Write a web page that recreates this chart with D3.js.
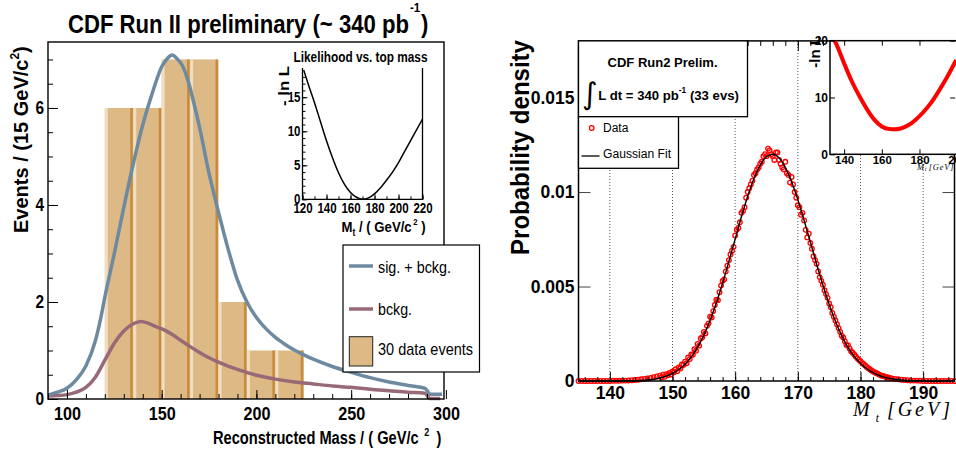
<!DOCTYPE html>
<html>
<head>
<meta charset="utf-8">
<script src="https://cdn.jsdelivr.net/npm/d3@7"></script>
<style>
  body { margin: 0; background: #fff; }
  svg { display: block; }
</style>
</head>
<body>
<div id="chart"></div>
<script>
// ---------- left panel: reconstructed mass ----------
const binEdges = [120, 135, 150, 165, 180, 195, 210, 225];
const binCounts = [6, 6, 7, 7, 2, 1, 1];

const sigMass = [90, 95, 100, 105, 110, 115, 118, 120, 125, 130, 135, 140, 145, 150, 153, 155.5, 158, 161, 164, 167, 170, 175, 180, 185, 190, 195, 200, 205, 210, 215, 220, 225, 230, 240, 250, 260, 270, 280, 289, 290.5, 291.5, 298];
const sigEvents = [0.08, 0.14, 0.22, 0.4, 0.68, 1.2, 1.7, 2.1, 3.0, 3.95, 4.85, 5.65, 6.3, 6.85, 7.02, 7.09, 7.02, 6.87, 6.55, 6.1, 5.6, 4.65, 3.85, 3.1, 2.45, 2.0, 1.68, 1.45, 1.27, 1.13, 1.01, 0.91, 0.82, 0.67, 0.55, 0.44, 0.35, 0.28, 0.22, 0.15, 0.1, 0.1];

const bkgMass = [90, 95, 100, 105, 110, 115, 120, 125, 130, 135, 139, 143, 147, 152, 156, 160, 165, 170, 175, 180, 185, 190, 200, 210, 220, 230, 240, 250, 260, 270, 280, 289, 290.5, 291.5, 297];
const bkgEvents = [0.06, 0.07, 0.09, 0.14, 0.24, 0.45, 0.8, 1.15, 1.4, 1.55, 1.6, 1.56, 1.49, 1.41, 1.32, 1.21, 1.08, 0.96, 0.85, 0.76, 0.68, 0.61, 0.49, 0.41, 0.35, 0.31, 0.27, 0.24, 0.2, 0.17, 0.14, 0.12, 0.05, 0.01, 0.01];

const massTicks = [100, 150, 200, 250, 300];
const eventTicks = [0, 2, 4, 6];

// inset: likelihood vs top mass
const likeMass = [121, 125, 130, 135, 140, 145, 150, 155, 160, 165, 170, 175, 180, 185, 190, 195, 200, 205, 210, 215, 220];
const likeNegLnL = [19.0, 16.8, 14.2, 11.4, 8.6, 6.1, 3.9, 2.2, 1.0, 0.3, 0.0, 0.2, 0.8, 1.7, 2.8, 4.0, 5.4, 7.0, 8.6, 10.2, 11.8];
const likeMassTicks = [120, 140, 160, 180, 200, 220];
const likeTicks = [0, 5, 10, 15];

// ---------- right panel: probability density ----------
const fitMass = d3.range(135, 196, 1);
const fitDensity = [
  0, 0, 0, 0, 0, 0, 0, 0,
  0.000005, 0.00001, 0.000034, 0.000059, 0.0001, 0.00016, 0.00026, 0.0004, 0.00061, 0.00089, 0.00128, 0.00179,
  0.00243, 0.00322, 0.00414, 0.00519, 0.00633, 0.00751, 0.00869, 0.00978, 0.01072, 0.01143,
  0.01187, 0.0120, 0.01181, 0.01131, 0.01055, 0.0096, 0.0085, 0.00735, 0.00618, 0.00508,
  0.00406, 0.00316, 0.0024, 0.00178, 0.0013, 0.00093, 0.00065, 0.00044, 0.00029, 0.00019,
  0.00012, 0.00007, 0.00004, 0.00002, 0.00001,
  0, 0, 0, 0, 0, 0
];

// data points on the 0.5 GeV grid
const dataMass = d3.range(0, 121).map(i => 135 + i * 0.5);
const dataDensity = [
  0, 0, 0, 0, 0, 0, 0, 0, 0, 0,
  0, 0.00001, 0.00001, 0.00001, 0.00002, 0.00002, 0.00003, 0.00004, 0.00005, 0.00007,
  0.00009, 0.00011, 0.00013, 0.00016, 0.0002, 0.00024, 0.00028, 0.00033, 0.00036, 0.00042,
  0.0005, 0.00062, 0.00072, 0.00088, 0.00102, 0.00125, 0.0014, 0.00168, 0.00196, 0.00225,
  0.0026, 0.00292, 0.0034, 0.0037, 0.0043, 0.0047, 0.0053, 0.0058, 0.0064, 0.0069,
  0.0077, 0.0081, 0.0089, 0.0092, 0.0100, 0.0104, 0.0109, 0.0112, 0.0115, 0.0119,
  0.0119, 0.0122, 0.0119, 0.0121, 0.0117, 0.0113, 0.0116, 0.0109, 0.0108, 0.0100,
  0.0093, 0.0088, 0.0085, 0.0076, 0.0073, 0.0066, 0.0062, 0.0055, 0.0051, 0.0046,
  0.0041, 0.0036, 0.0032, 0.0028, 0.0024, 0.0021, 0.0019, 0.00158, 0.0014, 0.0012,
  0.00105, 0.0009, 0.00074, 0.00062, 0.0005, 0.00042, 0.00034, 0.00027, 0.00022, 0.00017,
  0.00014, 0.00011, 0.00009, 0.00007, 0.00005, 0.00004, 0.00003, 0.00002, 0.00002, 0.00001,
  0, 0, 0, 0, 0, 0, 0, 0, 0, 0, 0
];
// data points between the grid, core region only
const dataMass2 = d3.range(0, 74).map(i => 148.25 + i * 0.5);
const dataDensity2 = [
  0.00019, 0.00022, 0.0003, 0.00034, 0.00046, 0.00052, 0.00066, 0.00085, 0.00094, 0.00116,
  0.00139, 0.0016, 0.00187, 0.00232, 0.00252, 0.00305, 0.00336, 0.00402, 0.00428, 0.00505,
  0.00538, 0.0061, 0.0067, 0.0071, 0.0080, 0.0084, 0.0090, 0.0097, 0.0102, 0.0106,
  0.0110, 0.0113, 0.0116, 0.0120, 0.0123, 0.0120, 0.0117, 0.0121, 0.0115, 0.0112,
  0.0110, 0.0105, 0.0104, 0.0097, 0.0092, 0.0089, 0.0080, 0.0078, 0.0070, 0.0064,
  0.0058, 0.0053, 0.0048, 0.0044, 0.0039, 0.0034, 0.0030, 0.0026, 0.0023, 0.0019,
  0.00172, 0.0015, 0.0013, 0.00112, 0.00096, 0.00082, 0.00068, 0.00056, 0.00046, 0.00038,
  0.0003, 0.00025, 0.0002, 0.00015
];
const mtTicks = [140, 150, 160, 170, 180, 190];
const densityTicks = [0, 0.005, 0.01, 0.015];

// small inset: -ln L
const scanMass = [135, 136, 140, 144, 148, 152, 156, 160, 164, 167, 170, 174, 178, 182, 186, 190, 194, 199.5];
const scanNegLnL = [20.0, 19.3, 16.0, 12.9, 10.3, 8.0, 6.1, 4.9, 4.45, 4.4, 4.55, 5.1, 6.1, 7.4, 9.0, 11.0, 13.2, 16.6];
const scanMassTicks = [140, 160, 180, 200];
const scanTicks = [0, 10, 20];

// ---------- drawing ----------
const W = 956, H = 458;
const SANS = "'Liberation Sans', Arial, Helvetica, sans-serif";
const SERIF = "'Liberation Serif', 'Times New Roman', serif";
const BLUE = "#6e8aa1", MAUVE = "#986a77";
const TAN = "#ddb985", TAN_LIGHT = "#f0ddc2", TAN_DARK = "#c88b3a";

const svg = d3.select("#chart").append("svg")
  .attr("width", W).attr("height", H)
  .style("font-family", SANS);

function txt(g, x, y, s, o = {}) {
  const t = g.append("text").attr("x", x).attr("y", y).text(s)
    .attr("font-family", o.family || SANS)
    .attr("font-size", o.size || 14)
    .attr("font-weight", o.weight || "normal")
    .attr("text-anchor", o.anchor || "start")
    .attr("fill", o.fill || "#000");
  if (o.italic) t.attr("font-style", "italic");
  if (o.len) t.attr("textLength", o.len).attr("lengthAdjust", "spacingAndGlyphs");
  return t;
}

// one text element with sub/superscript tspans, optionally squeezed horizontally
function rich(g, x, y, parts, o = {}) {
  const t = txt(g, 0, 0, "", o).attr("transform", `translate(${x},${y}) scale(${o.sx || 1},1)`);
  parts.forEach(p => {
    const s = t.append("tspan").text(p.t).attr("y", p.dy || 0);
    if (p.size) s.attr("font-size", p.size);
    if (p.dx) s.attr("dx", p.dx);
    if (p.ls) s.attr("letter-spacing", p.ls);
  });
  return t;
}

function styleAxis(g, size, weight, perChar) {
  g.select(".domain").remove();
  g.selectAll("text")
    .style("font-family", SANS)
    .style("font-size", size + "px")
    .style("font-weight", weight)
    .attr("fill", "#000");
  if (perChar) {
    g.selectAll("text").each(function () {
      const n = this.textContent.length;
      if (n) d3.select(this).attr("textLength", n * perChar).attr("lengthAdjust", "spacingAndGlyphs");
    });
  }
  g.selectAll("line").attr("stroke", "#000");
}

const curve = (sx, sy) => d3.line().x(d => sx(d[0])).y(d => sy(d[1])).curve(d3.curveMonotoneX);

// ===== LEFT PANEL =====
const xL = d3.scaleLinear().domain([90, 299]).range([48, 444]);
const yL = d3.scaleLinear().domain([0, 7.36]).range([399, 42]);
const left = svg.append("g");

const bins = binCounts.map((n, i) => ({ x0: binEdges[i], x1: binEdges[i + 1], n }));
const barG = left.append("g");
barG.selectAll(".bar-main").data(bins).join("rect").attr("class", "bar-main")
  .attr("x", d => xL(d.x0)).attr("y", d => yL(d.n))
  .attr("width", d => xL(d.x1) - xL(d.x0)).attr("height", d => yL(0) - yL(d.n))
  .attr("fill", TAN);
barG.selectAll(".bar-light").data(bins).join("rect").attr("class", "bar-light")
  .attr("x", d => xL(d.x0)).attr("y", d => yL(d.n))
  .attr("width", 3).attr("height", d => yL(0) - yL(d.n))
  .attr("fill", TAN_LIGHT);
barG.selectAll(".bar-dark").data(bins).join("rect").attr("class", "bar-dark")
  .attr("x", d => xL(d.x1) - 3).attr("y", d => yL(d.n))
  .attr("width", 2.5).attr("height", d => yL(0) - yL(d.n))
  .attr("fill", TAN_DARK);

left.append("path").attr("d", curve(xL, yL)(d3.zip(bkgMass, bkgEvents)))
  .attr("fill", "none").attr("stroke", MAUVE).attr("stroke-width", 3.5);
left.append("path").attr("d", curve(xL, yL)(d3.zip(sigMass, sigEvents)))
  .attr("fill", "none").attr("stroke", BLUE).attr("stroke-width", 3.5);

// axes
const axLB = left.append("g").attr("transform", `translate(0,${yL(0)})`);
axLB.append("g").call(d3.axisBottom(xL).tickValues(d3.range(90, 300, 10)).tickSize(-5).tickFormat(""))
  .call(g => styleAxis(g, 18, "bold"));
axLB.append("g").call(d3.axisBottom(xL).tickValues(massTicks).tickSize(-9).tickPadding(8))
  .call(g => styleAxis(g, 19, "bold", 9));

const axLL = left.append("g").attr("transform", `translate(${xL(90)},0)`);
axLL.append("g").call(d3.axisLeft(yL).tickValues(d3.range(0, 7.3, 0.5)).tickSize(-5).tickFormat(""))
  .call(g => styleAxis(g, 18, "bold"));
axLL.append("g").call(d3.axisLeft(yL).tickValues(eventTicks).tickSize(-10).tickPadding(4))
  .call(g => styleAxis(g, 18.5, "bold", 8.6));

left.append("rect").attr("x", 48).attr("y", 42).attr("width", 396).attr("height", 357)
  .attr("fill", "none").attr("stroke", "#000").attr("stroke-width", 1.4);

// titles
rich(svg, 68, 33, [
  { t: "CDF Run II preliminary (~ 340 pb" },
  { t: "-1", size: 13, dy: -21, dx: 1 },
  { t: ")", dy: 0, dx: 1 }
], { size: 25, weight: "bold", sx: 0.885 });

const yTitle = svg.append("g").attr("transform", "translate(28,233) rotate(-90)");
rich(yTitle, 0, 0, [
  { t: "Events / (15 GeV/c" },
  { t: "2", size: 12, dy: -9 },
  { t: ")", dy: 0 }
], { size: 20, weight: "bold" });

rich(svg, 213, 444, [
  { t: "Reconstructed Mass / ( GeV/c" },
  { t: "2", size: 11, dy: -8, dx: 7 },
  { t: " )", dy: 0, dx: 4 }
], { size: 18, weight: "bold", sx: 0.813 });

// inset: likelihood
const xI = d3.scaleLinear().domain([120, 220]).range([302.5, 422.5]);
const yI = d3.scaleLinear().domain([0, 19.3]).range([199.3, 68]);
const inset = left.append("g");
inset.append("path").attr("d", curve(xI, yI)(d3.zip(likeMass, likeNegLnL)))
  .attr("fill", "none").attr("stroke", "#000").attr("stroke-width", 1.5);
const axIB = inset.append("g").attr("transform", `translate(0,${yI(0)})`);
axIB.append("g").call(d3.axisBottom(xI).tickValues(d3.range(120, 221, 10)).tickSize(-3).tickFormat(""))
  .call(g => styleAxis(g, 14, "bold"));
axIB.append("g").call(d3.axisBottom(xI).tickValues(likeMassTicks).tickSize(-5).tickPadding(3))
  .call(g => styleAxis(g, 14.5, "bold", 6.4));
const axIL = inset.append("g").attr("transform", `translate(${xI(120)},0)`);
axIL.append("g").call(d3.axisLeft(yI).tickValues(d3.range(0, 19, 1)).tickSize(-3).tickFormat(""))
  .call(g => styleAxis(g, 14, "bold"));
axIL.append("g").call(d3.axisLeft(yI).tickValues(likeTicks).tickSize(-5).tickPadding(2))
  .call(g => styleAxis(g, 14.5, "bold", 6.4));
inset.append("path")
  .attr("d", `M${xI(120)},${yI(19.3)}V${yI(0)}H${xI(220)}V${yI(19.3)}`)
  .attr("fill", "none").attr("stroke", "#000").attr("stroke-width", 1.3);

txt(svg, 293.5, 62, "Likelihood vs. top mass", { size: 14.5, weight: "bold", len: 134 });
const yTitleI = svg.append("g").attr("transform", "translate(289,106) rotate(-90)");
txt(yTitleI, 0, 0, "- ln L", { size: 15, weight: "bold", len: 40 });
rich(svg, 341.5, 231.7, [
  { t: "M" },
  { t: "t", size: 10, dy: 4 },
  { t: " / ( GeV/c", dy: 0 },
  { t: "2", size: 9, dy: -7, dx: 2 },
  { t: " )", dy: 0 }
], { size: 15.5, weight: "bold", sx: 0.85 });

// legend
const lg = svg.append("g");
lg.append("rect").attr("x", 343).attr("y", 245).attr("width", 136.5).attr("height", 127)
  .attr("fill", "#fff").attr("stroke", "#000").attr("stroke-width", 1.2);
lg.append("line").attr("x1", 349).attr("x2", 373).attr("y1", 266).attr("y2", 266)
  .attr("stroke", BLUE).attr("stroke-width", 3.5);
lg.append("line").attr("x1", 349).attr("x2", 373).attr("y1", 309).attr("y2", 309)
  .attr("stroke", MAUVE).attr("stroke-width", 3.5);
lg.append("rect").attr("x", 349.3).attr("y", 336.7).attr("width", 23.4).attr("height", 29.3)
  .attr("fill", TAN).attr("stroke", "#222").attr("stroke-width", 1);
txt(lg, 378, 273, "sig. + bckg.", { size: 17, len: 73 });
txt(lg, 378, 315, "bckg.", { size: 17, len: 34 });
txt(lg, 378, 355, "30 data events", { size: 17, len: 95 });

// ===== RIGHT PANEL =====
const xR = d3.scaleLinear().domain([135, 195]).range([578.5, 954.5]);
const yR = d3.scaleLinear().domain([0, 0.018]).range([381, 40.9]);
const right = svg.append("g");

right.selectAll(".grid").data(mtTicks).join("line").attr("class", "grid")
  .attr("x1", d => xR(d)).attr("x2", d => xR(d)).attr("y1", yR(0)).attr("y2", yR(0.018))
  .attr("stroke", "#555").attr("stroke-width", 1).attr("stroke-dasharray", "1 2");

const points = d3.zip(dataMass, dataDensity).concat(d3.zip(dataMass2, dataDensity2));
right.append("g").selectAll("circle").data(points).join("circle")
  .attr("cx", d => xR(d[0])).attr("cy", d => yR(d[1])).attr("r", 2.3)
  .attr("fill", "none").attr("stroke", "#f00").attr("stroke-width", 1.3);
right.append("path").attr("d", curve(xR, yR)(d3.zip(fitMass, fitDensity)))
  .attr("fill", "none").attr("stroke", "#000").attr("stroke-width", 1.4);

const axRB = right.append("g").attr("transform", `translate(0,${yR(0)})`);
axRB.append("g").call(d3.axisBottom(xR).tickValues(d3.range(136, 195, 2)).tickSize(-4).tickFormat(""))
  .call(g => styleAxis(g, 17, "bold"));
axRB.append("g").call(d3.axisBottom(xR).tickValues(mtTicks).tickSize(-9).tickPadding(6))
  .call(g => styleAxis(g, 17.5, "bold"));
const axRT = right.append("g").attr("transform", `translate(0,${yR(0.018)})`);
axRT.append("g").call(d3.axisTop(xR).tickValues(d3.range(136, 195, 2)).tickSize(-5).tickFormat(""))
  .call(g => styleAxis(g, 17, "bold"));
axRT.append("g").call(d3.axisTop(xR).tickValues(mtTicks).tickSize(-10).tickFormat(""))
  .call(g => styleAxis(g, 17, "bold"));
const axRL = right.append("g").attr("transform", `translate(${xR(135)},0)`);
axRL.call(d3.axisLeft(yR).tickValues(densityTicks).tickSize(-12).tickPadding(4)
    .tickFormat(d => d === 0 ? "0" : String(+d.toFixed(3))))
  .call(g => styleAxis(g, 17.5, "bold"));
axRL.selectAll("line").attr("stroke", "#444");
const axRR = right.append("g").attr("transform", `translate(${xR(195)},0)`);
axRR.call(d3.axisRight(yR).tickValues(densityTicks).tickSize(-12).tickFormat(""))
  .call(g => styleAxis(g, 17, "bold"));
axRR.selectAll("line").attr("stroke", "#444");

right.append("rect").attr("x", 578.5).attr("y", 40.9).attr("width", 376).attr("height", 340.1)
  .attr("fill", "none").attr("stroke", "#000").attr("stroke-width", 1.5);

const yTitleR = svg.append("g").attr("transform", "translate(529,147.5) rotate(-90)");
txt(yTitleR, 0, 0, "Probability density", { size: 25, weight: "bold", anchor: "middle", len: 215 });

rich(svg, 853, 416, [
  { t: "M" },
  { t: "t", size: 11.5, dy: 6, dx: 6 },
  { t: "[GeV]", dy: 0, dx: 8, ls: 3 }
], { size: 20, family: SERIF, italic: true });

// legend boxes
const lr = svg.append("g");
lr.append("rect").attr("x", 578.5).attr("y", 40.9).attr("width", 169).attr("height", 75.8)
  .attr("fill", "#fff").attr("stroke", "#000").attr("stroke-width", 1.3);
lr.append("rect").attr("x", 578.5).attr("y", 116.7).attr("width", 100).attr("height", 51.6)
  .attr("fill", "#fff").attr("stroke", "#000").attr("stroke-width", 1.3);
txt(lr, 662.5, 66.5, "CDF Run2 Prelim.", { size: 12.5, weight: "bold", anchor: "middle", len: 110 });
txt(lr, 582, 104, "\u222B", { size: 30, family: "'DejaVu Sans', sans-serif" });
rich(lr, 598.3, 100, [
  { t: "L dt = 340 pb" },
  { t: "-1", size: 8.5, dy: -7 },
  { t: " (33 evs)", dy: 0 }
], { size: 13.5, weight: "bold", sx: 0.975 });
lr.append("circle").attr("cx", 591.7).attr("cy", 128).attr("r", 2.3)
  .attr("fill", "none").attr("stroke", "#f00").attr("stroke-width", 1.3);
txt(lr, 603, 131.7, "Data", { size: 12 });
lr.append("line").attr("x1", 581.5).attr("x2", 599.5).attr("y1", 156).attr("y2", 156)
  .attr("stroke", "#000").attr("stroke-width", 1.3);
txt(lr, 603, 158.3, "Gaussian Fit", { size: 12, len: 68 });

// small inset
const xS = d3.scaleLinear().domain([132.5, 199.5]).range([830, 956.2]);
const yS = d3.scaleLinear().domain([0, 20]).range([154.3, 40.7]);
const ins2 = svg.append("g");
ins2.append("rect").attr("x", 830).attr("y", 40.7).attr("width", 130).attr("height", 113.6)
  .attr("fill", "#fff").attr("stroke", "#000").attr("stroke-width", 1.5);
ins2.append("clipPath").attr("id", "clipS").append("rect")
  .attr("x", 830).attr("y", 40.7).attr("width", 126).attr("height", 113.6);
ins2.append("path").attr("d", curve(xS, yS)(d3.zip(scanMass, scanNegLnL)))
  .attr("clip-path", "url(#clipS)")
  .attr("fill", "none").attr("stroke", "#f00").attr("stroke-width", 4);
const axSB = ins2.append("g").attr("transform", `translate(0,${yS(0)})`);
axSB.call(d3.axisBottom(xS).tickValues(scanMassTicks.slice(0, 3)).tickSize(-5).tickPadding(2))
  .call(g => styleAxis(g, 11.5, "bold"));
const axST = ins2.append("g").attr("transform", `translate(0,${yS(20)})`);
axST.call(d3.axisTop(xS).tickValues(scanMassTicks).tickSize(-5).tickFormat(""))
  .call(g => styleAxis(g, 11, "bold"));
const axSL = ins2.append("g").attr("transform", `translate(${xS(132.5)},0)`);
axSL.call(d3.axisLeft(yS).tickValues(scanTicks).tickSize(-5).tickPadding(2))
  .call(g => styleAxis(g, 12, "bold"));
const axSR = ins2.append("g").attr("transform", `translate(${xS(199.5) - 1},0)`);
axSR.call(d3.axisRight(yS).tickValues(scanTicks).tickSize(-5).tickFormat(""))
  .call(g => styleAxis(g, 11, "bold"));
// the "200" label runs off the right edge in the original, only "20" shows
txt(ins2, xS(200) - 9, 163.5, "20", { size: 11.5, weight: "bold" });
const yTitleS = svg.append("g").attr("transform", "translate(820,36) rotate(-90)");
txt(yTitleS, 0, 0, "-ln L", { size: 15, weight: "bold", anchor: "end" });
rich(svg, 917, 169.5, [
  { t: "M" },
  { t: "t", size: 5.5, dy: 1.5, dx: 1 },
  { t: "[GeV]", dy: 0, dx: 2, ls: 0.8 }
], { size: 8.5, family: SERIF, italic: true });
</script>
</body>
</html>
